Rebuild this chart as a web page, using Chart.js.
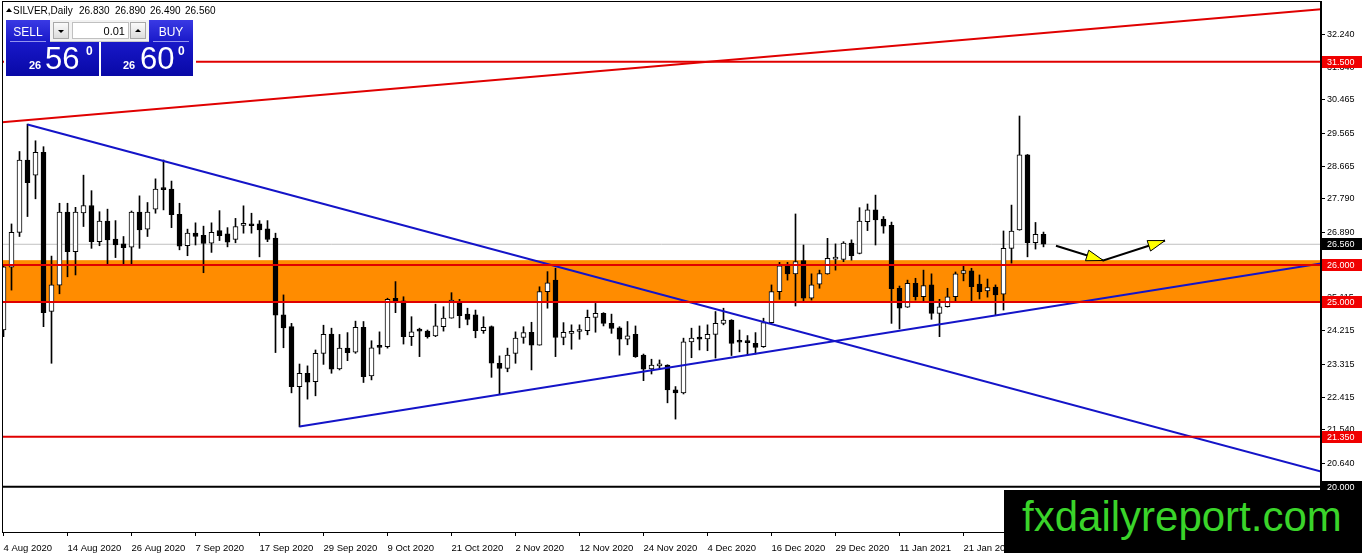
<!DOCTYPE html>
<html>
<head>
<meta charset="utf-8">
<title>SILVER, Daily</title>
<script src="https://cdn.jsdelivr.net/npm/chart.js@4.4.1/dist/chart.umd.min.js"></script>
<style>
  html, body { margin: 0; padding: 0; background: #fff; }
  #wrap { position: relative; width: 1362px; height: 553px; overflow: hidden; font-family: 'Liberation Sans', Arial, sans-serif; }
  #chart { position: absolute; left: 0; top: 0; }
  .abs { position: absolute; white-space: nowrap; line-height: 1; }
  .hdr { font-size: 10px; color: #000; top: 6px; }
  .tri { left: 6px; top: 8px; width: 0; height: 0; border-left: 3px solid transparent; border-right: 3px solid transparent; border-bottom: 4px solid #000; }
  #panelBg { left: 4px; top: 18px; width: 192px; height: 60px; background: #fff; }
  .blue { background: linear-gradient(to bottom, #3a3ae4, #1818c8 40%, #0808a6); }
  .sep { height: 1px; background: rgba(200,200,255,0.7); }
  .btnTxt { color: #fff; font-size: 12px; top: 26px; width: 44px; text-align: center; }
  .small { color: #fff; font-size: 11px; font-weight: bold; top: 60px; }
  .big { color: #fff; font-size: 31px; top: 43px; }
  .sup { color: #fff; font-size: 12px; font-weight: bold; top: 45px; }
  #lot { left: 50px; top: 20px; width: 99px; height: 22px; background: #f2f2f2; border-bottom: 1px solid #c8c8c8; box-sizing: border-box; }
  .arrBtn { top: 22px; width: 16px; height: 17px; background: linear-gradient(#fafafa, #dcdcdc); border: 1px solid #a8a8a8; box-sizing: border-box; }
  .arrBtn span { position: absolute; left: 4px; width: 0; height: 0; border-left: 3px solid transparent; border-right: 3px solid transparent; }
  #lotInput { left: 72px; top: 22px; width: 57px; height: 17px; background: #fff; border: 1px solid #c0c0c0; box-sizing: border-box; }
  #lotTxt { right: 3px; top: 3px; font-size: 11px; color: #000; }
  #logo { left: 1004px; top: 490px; width: 358px; height: 63px; background: #000; }
  #logoTxt { left: 18px; top: 6px; font-size: 42px; color: #3ad42a; }
</style>
</head>
<body>
<div id="wrap">
  <canvas id="chart" width="1362" height="553"></canvas>

  <!-- symbol line -->
  <div class="abs tri"></div>
  <div class="abs hdr" style="left:13px">SILVER,Daily</div>
  <div class="abs hdr" style="left:79px">26.830</div>
  <div class="abs hdr" style="left:115px">26.890</div>
  <div class="abs hdr" style="left:150px">26.490</div>
  <div class="abs hdr" style="left:185px">26.560</div>

  <!-- one click trading panel -->
  <div class="abs" id="panelBg"></div>
  <div class="abs blue" style="left:6px;top:20px;width:93px;height:56px"></div>
  <div class="abs blue" style="left:101px;top:20px;width:92px;height:56px"></div>
  <div class="abs sep" style="left:10px;top:41px;width:36px"></div>
  <div class="abs sep" style="left:153px;top:41px;width:36px"></div>
  <div class="abs btnTxt" style="left:6px">SELL</div>
  <div class="abs btnTxt" style="left:149px">BUY</div>
  <div class="abs" id="lot"></div>
  <div class="abs arrBtn" style="left:53px"><span style="top:7px;border-top:3px solid #000"></span></div>
  <div class="abs" id="lotInput"><div class="abs" id="lotTxt">0.01</div></div>
  <div class="abs arrBtn" style="left:130px"><span style="top:6px;border-bottom:3px solid #000"></span></div>
  <div class="abs small" style="left:29px">26</div>
  <div class="abs big" style="left:45px">56</div>
  <div class="abs sup" style="left:86px">0</div>
  <div class="abs small" style="left:123px">26</div>
  <div class="abs big" style="left:140px">60</div>
  <div class="abs sup" style="left:178px">0</div>

  <!-- watermark -->
  <div class="abs" id="logo"><div class="abs" id="logoTxt">fxdailyreport.com</div></div>
</div>

<script>
  // ----- data (daily candles, 4 Aug 2020 .. 4 Feb 2021) -----
  const open = [
    24.24, 25.94, 26.88, 28.84, 28.43, 29.05, 24.74, 25.45, 27.43, 26.36,
    27.41, 27.61, 26.63, 27.19, 26.70, 26.57, 26.48, 27.43, 26.97, 27.51,
    28.06, 28.05, 27.37, 26.52, 26.86, 26.80, 26.59, 26.93, 26.84, 26.69,
    27.07, 27.11, 27.11, 26.98, 26.73, 24.65, 24.33, 22.71, 23.07, 22.84,
    23.61, 24.13, 23.19, 23.75, 23.64, 24.31, 23.00, 23.79, 23.79, 25.10,
    25.03, 24.06, 24.23, 24.21, 24.08, 24.33, 24.56, 24.99, 24.67, 24.65,
    24.22, 24.33, 23.34, 23.20, 23.61, 24.04, 24.18, 23.83, 25.28, 25.59,
    24.04, 24.15, 24.20, 24.22, 24.58, 24.69, 24.42, 24.30, 23.99, 24.12,
    23.56, 23.19, 23.27, 23.29, 22.62, 22.54, 23.92, 24.05, 24.00, 24.12,
    24.42, 24.51, 23.93, 23.92, 23.88, 23.79, 24.44, 25.28, 25.97, 25.76,
    26.12, 25.10, 25.48, 25.76, 26.16, 26.15, 26.59, 26.31, 27.17, 27.49,
    27.24, 27.07, 25.37, 24.86, 25.50, 25.14, 25.46, 24.69, 24.87, 25.14,
    25.77, 25.84, 25.48, 25.30, 25.40, 25.21, 26.45, 26.95, 28.98, 26.60,
    26.83
  ];
  const high = [
    25.98, 27.11, 29.07, 29.81, 29.36, 29.20, 26.24, 27.67, 27.67, 27.56,
    28.43, 28.01, 27.44, 27.51, 27.20, 26.77, 27.46, 27.87, 27.69, 28.33,
    28.84, 28.27, 27.67, 26.97, 27.14, 27.05, 27.14, 27.47, 27.01, 27.26,
    27.60, 27.40, 27.20, 27.20, 26.86, 25.19, 24.42, 23.32, 23.27, 23.70,
    24.37, 24.29, 24.12, 24.17, 24.48, 24.47, 23.95, 24.19, 25.10, 25.55,
    25.14, 24.60, 24.29, 24.24, 24.94, 24.87, 25.25, 25.07, 24.83, 24.78,
    24.60, 24.35, 23.54, 23.75, 24.19, 24.33, 24.45, 25.41, 25.82, 25.91,
    24.44, 24.38, 24.38, 24.78, 24.96, 24.71, 24.67, 24.33, 24.47, 24.35,
    23.59, 23.45, 23.43, 23.30, 22.71, 24.02, 24.29, 24.35, 24.38, 24.74,
    24.83, 24.52, 24.24, 24.09, 24.17, 24.56, 25.46, 26.07, 26.07, 27.38,
    26.54, 25.76, 25.86, 26.72, 26.57, 26.63, 26.68, 27.55, 27.65, 27.89,
    27.31, 27.16, 25.43, 25.59, 25.64, 25.86, 25.76, 25.07, 25.37, 25.81,
    25.98, 25.91, 25.73, 25.62, 25.46, 26.92, 27.62, 30.03, 28.99, 27.15,
    26.89
  ];
  const low = [
    24.06, 25.32, 26.77, 27.31, 27.79, 24.33, 23.34, 25.22, 25.68, 25.73,
    27.04, 26.45, 26.52, 26.02, 26.20, 26.02, 26.02, 26.45, 26.77, 27.40,
    27.49, 27.01, 26.41, 26.25, 26.54, 25.79, 26.34, 26.66, 26.49, 26.60,
    26.86, 26.86, 26.22, 26.63, 23.63, 23.76, 22.54, 21.62, 22.37, 22.46,
    23.31, 23.07, 23.16, 23.41, 23.61, 22.82, 22.89, 23.59, 23.75, 24.71,
    23.86, 23.82, 23.52, 24.02, 24.06, 24.21, 24.56, 24.30, 24.38, 24.03,
    24.15, 22.96, 22.50, 23.11, 23.34, 23.88, 23.16, 23.83, 24.83, 23.52,
    23.84, 23.72, 23.99, 24.11, 24.18, 24.35, 24.15, 23.56, 23.84, 23.50,
    22.87, 23.05, 23.20, 22.27, 21.83, 22.51, 23.49, 23.70, 23.68, 23.48,
    24.38, 23.55, 23.65, 23.56, 23.59, 23.77, 24.42, 25.07, 25.59, 24.89,
    25.03, 25.05, 25.37, 25.75, 25.86, 26.09, 26.13, 26.30, 26.93, 26.54,
    26.86, 24.42, 24.27, 24.85, 25.05, 25.03, 24.53, 24.06, 24.86, 25.01,
    25.57, 25.01, 25.08, 25.13, 24.65, 24.78, 26.05, 26.94, 26.22, 26.43,
    26.49
  ];
  const close = [
    25.95, 26.88, 28.84, 28.23, 29.05, 24.71, 25.46, 27.43, 26.36, 27.43,
    27.61, 26.63, 27.19, 26.68, 26.54, 26.47, 27.43, 26.95, 27.43, 28.05,
    28.04, 27.36, 26.51, 26.86, 26.77, 26.58, 26.88, 26.79, 26.62, 27.04,
    27.09, 27.06, 26.95, 26.69, 24.64, 24.30, 22.71, 23.07, 22.83, 23.61,
    24.12, 23.18, 23.75, 23.63, 24.31, 22.98, 23.76, 23.77, 25.07, 25.03,
    24.06, 24.19, 24.21, 24.06, 24.35, 24.56, 25.05, 24.63, 24.53, 24.22,
    24.31, 23.34, 23.20, 23.56, 24.02, 24.17, 23.83, 25.28, 25.52, 24.04,
    24.18, 24.19, 24.22, 24.58, 24.69, 24.42, 24.28, 23.99, 24.08, 23.52,
    23.18, 23.29, 23.29, 22.62, 22.54, 23.92, 24.02, 23.99, 24.12, 24.42,
    24.51, 23.88, 23.91, 23.90, 23.77, 24.44, 25.28, 25.98, 25.76, 26.09,
    25.10, 25.46, 25.77, 26.18, 26.18, 26.59, 26.25, 27.19, 27.49, 27.22,
    27.05, 25.36, 24.83, 25.50, 25.14, 25.44, 24.69, 24.87, 25.14, 25.76,
    25.85, 25.41, 25.28, 25.39, 25.19, 26.45, 26.92, 28.98, 26.60, 26.83,
    26.56
  ];

  // x axis: bar index of each date label
  const tickIndex = [0, 8, 16, 24, 32, 40, 48, 56, 64, 72, 80, 88, 96, 104, 112, 120];
  const tickLabels = ['4 Aug 2020', '14 Aug 2020', '26 Aug 2020', '7 Sep 2020', '17 Sep 2020',
    '29 Sep 2020', '9 Oct 2020', '21 Oct 2020', '2 Nov 2020', '12 Nov 2020', '24 Nov 2020',
    '4 Dec 2020', '16 Dec 2020', '29 Dec 2020', '11 Jan 2021', '21 Jan 2021'];
  const priceTicks = [32.24, 31.34, 30.465, 29.565, 28.665, 27.79, 26.89, 25.99, 25.115,
    24.215, 23.315, 22.415, 21.54, 20.64];

  // drawn objects
  const redLevels = [31.5, 26.0, 25.0, 21.35];
  const floorLevel = 20.0;
  const bidLevel = 26.56;
  const zone = [25.0, 26.13];
  const redTrendX = [-0.19, 164.69], redTrendY = [29.86, 32.92];
  const blueDownX = [3, 164.69], blueDownY = [29.8, 20.41];
  const blueUpX = [37, 164.69], blueUpY = [21.63, 26.04];
  const arrowX = [131.56, 137.48, 145.19], arrowY = [26.52, 26.12, 26.66];

  const RED = '#e00000';
  const BLUE = '#1414c8';

  const pts = (xs, ys) => xs.map((x, i) => ({ x, y: ys[i] }));
  const bodies = open.map((o, i) => ({ x: i, y: [o, close[i]] }));
  const wicks = low.map((l, i) => ({ x: i, y: [l, high[i]] }));
  const bodyColors = open.map((o, i) => close[i] >= o ? '#ffffff' : '#000000');

  Chart.defaults.font.family = "'Liberation Sans', Arial, sans-serif";
  Chart.defaults.color = '#000';

  function hline(chart, v, color, width) {
    const { ctx, chartArea: a, scales: { y } } = chart;
    const py = y.getPixelForValue(v);
    ctx.save();
    ctx.strokeStyle = color;
    ctx.lineWidth = width;
    ctx.beginPath();
    ctx.moveTo(a.left, py);
    ctx.lineTo(a.right, py);
    ctx.stroke();
    ctx.restore();
  }

  function priceLabel(chart, v, bg) {
    const { ctx, chartArea: a, scales: { y } } = chart;
    const py = Math.round(y.getPixelForValue(v));
    ctx.save();
    ctx.fillStyle = bg;
    ctx.fillRect(a.right + 1, py - 6, 41, 12);
    ctx.fillStyle = '#fff';
    ctx.font = "9px 'Liberation Sans', Arial, sans-serif";
    ctx.textBaseline = 'middle';
    ctx.fillText(v.toFixed(3), a.right + 6, py + 0.5);
    ctx.restore();
  }

  const overlay = {
    id: 'overlay',
    beforeDatasetsDraw(chart) {
      const { ctx, chartArea: a, scales: { y } } = chart;
      const top = y.getPixelForValue(zone[1]);
      const bot = y.getPixelForValue(zone[0]);
      ctx.save();
      ctx.fillStyle = '#ff8c00';
      ctx.fillRect(a.left, top, a.right - a.left, bot - top);
      ctx.restore();
      hline(chart, bidLevel, '#c0c0c0', 1);
    },
    afterDatasetsDraw(chart) {
      redLevels.forEach(v => hline(chart, v, RED, 2));
      hline(chart, floorLevel, '#000', 2);

      // yellow arrow heads at the end of each arrow leg
      const { ctx, scales: { x, y } } = chart;
      for (let i = 1; i < arrowX.length; i++) {
        const x0 = x.getPixelForValue(arrowX[i - 1]), y0 = y.getPixelForValue(arrowY[i - 1]);
        const x1 = x.getPixelForValue(arrowX[i]), y1 = y.getPixelForValue(arrowY[i]);
        const ang = Math.atan2(y1 - y0, x1 - x0);
        const len = 17, half = 5.5;
        const bx = x1 - len * Math.cos(ang), by = y1 - len * Math.sin(ang);
        ctx.save();
        ctx.beginPath();
        ctx.moveTo(x1, y1);
        ctx.lineTo(bx + half * Math.sin(ang), by - half * Math.cos(ang));
        ctx.lineTo(bx - half * Math.sin(ang), by + half * Math.cos(ang));
        ctx.closePath();
        ctx.fillStyle = '#ffff00';
        ctx.fill();
        ctx.strokeStyle = '#000';
        ctx.lineWidth = 1;
        ctx.stroke();
        ctx.restore();
      }
    },
    afterDraw(chart) {
      const { ctx, chartArea: a } = chart;
      ctx.save();
      ctx.strokeStyle = '#000';
      ctx.lineWidth = 1;
      ctx.strokeRect(a.left + 0.5, a.top + 0.5, a.right - a.left - 1, a.bottom - a.top);
      ctx.restore();
      redLevels.forEach(v => priceLabel(chart, v, '#f00000'));
      priceLabel(chart, bidLevel, '#000');
      priceLabel(chart, floorLevel, '#000');
    }
  };

  // ----- Candlestick chart -----
  const ctx = document.getElementById('chart').getContext('2d');

  new Chart(ctx, {
    type: 'bar',
    data: {
      datasets: [
        { type: 'line', data: pts(redTrendX, redTrendY), borderColor: RED, borderWidth: 2, pointRadius: 0, order: 0 },
        { type: 'line', data: pts(blueDownX, blueDownY), borderColor: BLUE, borderWidth: 2, pointRadius: 0, order: 0 },
        { type: 'line', data: pts(blueUpX, blueUpY), borderColor: BLUE, borderWidth: 2, pointRadius: 0, order: 0 },
        { type: 'line', data: pts(arrowX, arrowY), borderColor: '#000', borderWidth: 2, pointRadius: 0, order: 0 },
        {
          label: 'body',
          data: bodies,
          backgroundColor: bodyColors,
          borderColor: '#000',
          borderWidth: 1,
          borderSkipped: false,
          barThickness: 5,
          minBarLength: 2,
          grouped: false,
          order: 1
        },
        {
          label: 'wick',
          data: wicks,
          backgroundColor: '#000',
          barThickness: 1,
          grouped: false,
          order: 2
        }
      ]
    },
    options: {
      responsive: false,
      animation: false,
      devicePixelRatio: 1,
      layout: { padding: { left: 2, top: 1, right: 0, bottom: 0 } },
      plugins: {
        legend: { display: false },
        tooltip: { enabled: false }
      },
      scales: {
        x: {
          type: 'linear',
          offset: false,
          min: -0.1875,
          max: 164.6875,
          afterBuildTicks: (s) => { s.ticks = tickIndex.map(v => ({ value: v })); },
          afterFit: (s) => { s.height = 21; s.paddingLeft = 0; s.paddingRight = 0; },
          grid: { offset: false, drawOnChartArea: false, drawTicks: true, tickLength: 4, color: '#000' },
          border: { display: true, color: '#000' },
          ticks: {
            autoSkip: false,
            maxRotation: 0,
            align: 'start',
            padding: 7,
            font: { size: 9.5 },
            callback: (v, i) => tickLabels[i]
          }
        },
        y: {
          position: 'right',
          min: 18.775,
          max: 33.142,
          afterBuildTicks: (s) => { s.ticks = priceTicks.map(v => ({ value: v })); },
          afterFit: (s) => { s.width = 41; s.paddingTop = 0; s.paddingBottom = 0; },
          grid: { drawOnChartArea: false, drawTicks: true, tickLength: 4, color: '#000' },
          border: { display: true, color: '#000' },
          ticks: {
            padding: 2,
            font: { size: 9 },
            callback: (v) => Number(v).toFixed(3)
          }
        }
      }
    },
    plugins: [overlay]
  });
</script>
</body>
</html>
